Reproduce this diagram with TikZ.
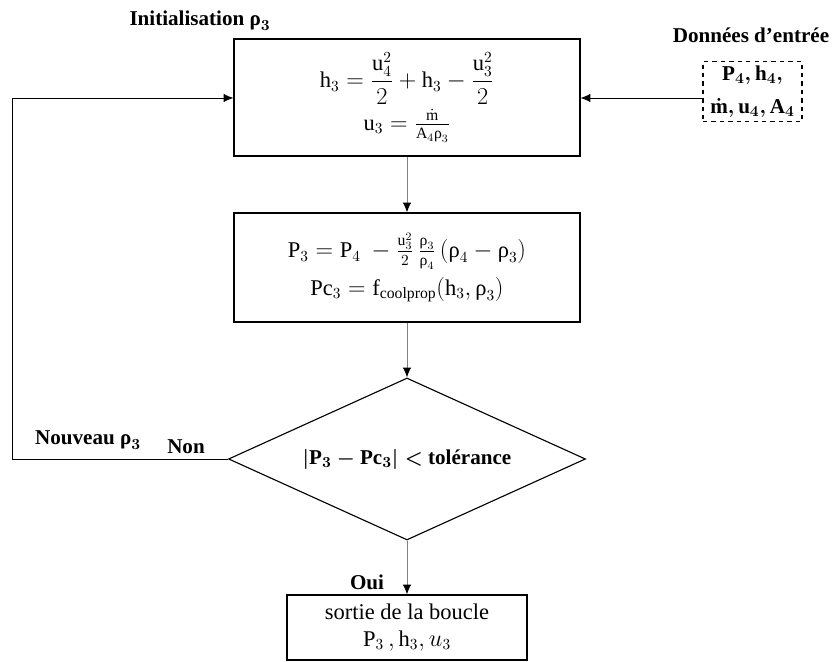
\documentclass[tikz,border=0pt]{standalone}
\usepackage{amsmath}
\usepackage{fontspec}
\setmainfont{Liberation Serif}
\usepackage{tikz}
\usetikzlibrary{positioning}
\usetikzlibrary{shapes.geometric}
\usetikzlibrary{arrows.meta}

\newcommand{\rh}{\text{ρ}}

\begin{document}
\begin{tikzpicture}[line width=0.8pt, font=\fontsize{16}{19}\selectfont,
    bloc/.style={draw, align=center, inner sep=2pt},
    entree/.style={draw, dashed, align=center, font=\fontsize{15}{18}\selectfont\bfseries\boldmath},
    decision/.style={draw, diamond, inner sep=0pt, minimum width=8.925cm, minimum height=4.05cm},
    fleche/.style={-{Latex[length=7pt, width=6pt, black]}, line width=0.6pt},
    lien/.style={fleche, draw=gray},
    etiq/.style={font=\fontsize{15}{18}\selectfont\bfseries\boldmath}]

        \useasboundingbox (0,0) rectangle (20.975,16.55);

        % blocs de calcul
        \node[bloc, minimum width=8.65cm, minimum height=2.925cm] (b1) at (10.175,14.1125)
            {$\mathrm{h}_3=\dfrac{\mathrm{u}_4^2}{2}+\mathrm{h}_3-\dfrac{\mathrm{u}_3^2}{2}$\\[3pt]
             $\mathrm{u}_3=\tfrac{\dot{\mathrm{m}}}{\mathrm{A}_4\rh_3}$};
        \node[bloc, minimum width=8.65cm, minimum height=2.725cm] (b2) at (10.175,9.8625)
            {$\mathrm{P}_3=\mathrm{P}_4\ -\tfrac{\mathrm{u}_3^2}{2}\,\tfrac{\rh_3}{\rh_4}\,(\rh_4-\rh_3)$\\[4pt]
             $\mathrm{Pc}_3=\mathrm{f}_{\mathrm{coolprop}}(\mathrm{h}_3,\rh_3)$};
        \node[decision] (test) at (10.175,5.075) {};
        \node[etiq] at (test) {$|\mathrm{P}_3-\mathrm{Pc}_3|<$ tolérance};
        \node[bloc, minimum width=6cm, minimum height=1.625cm] (b3) at (10.175,0.8625)
            {sortie de la boucle\\ $\mathrm{P}_3\,,\mathrm{h}_3,u_3$};

        % donnees d'entree
        \node[entree, minimum width=2.475cm, minimum height=1.425cm] (data) at (18.8125,14.2625)
            {$\mathrm{P}_4,\mathrm{h}_4,$\\[5pt] $\dot{\mathrm{m}},\mathrm{u}_4,\mathrm{A}_4$};

        \coordinate (loop) at (0.3,14.1);

        \draw[lien] (b1.south) -- (b2.north);
        \draw[lien] (b2.south) -- (test.north);
        \draw[lien] (test.south) -- (b3.north);
        \draw[fleche] (data.west |- loop) -- (b1.east |- loop);
        \draw[fleche] (test.west) -| (loop) -- (b1.west |- loop);

        % etiquettes
        \node[etiq] at (5.0,16.025) {Initialisation $\rh_3$};
        \node[etiq] at (18.775,15.675) {Données d'entrée};
        \node[etiq] at (2.2,5.55) {Nouveau $\rh_3$};
        \node[etiq] at (4.65,5.375) {Non};
        \node[etiq] at (9.175,2.0) {Oui};

\end{tikzpicture}
\end{document}
